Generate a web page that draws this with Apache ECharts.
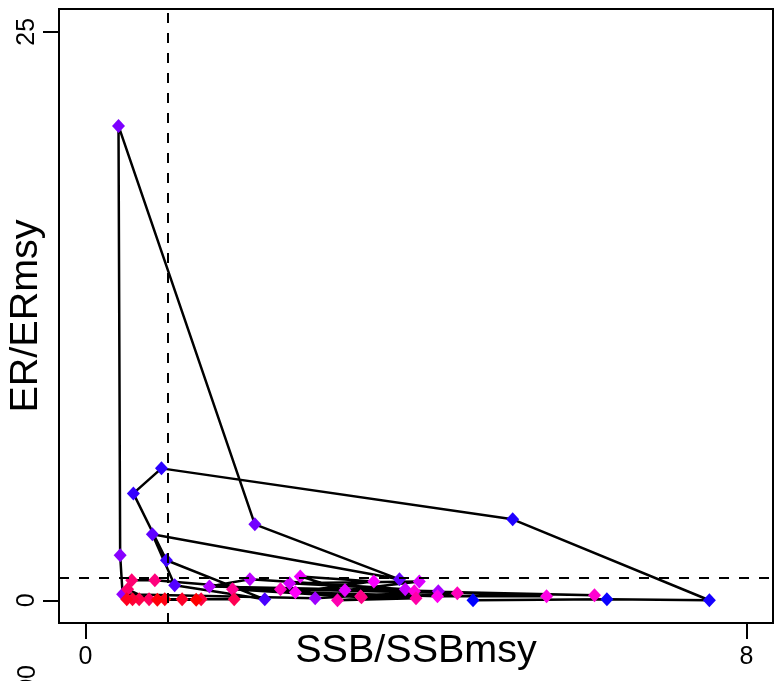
<!DOCTYPE html>
<html>
<head>
<meta charset="utf-8">
<script src="https://cdn.jsdelivr.net/npm/echarts@6/dist/echarts.min.js"></script>
<style>
html,body{margin:0;padding:0;background:#fff;}
#chart{width:775px;height:681px;}
</style>
</head>
<body>
<div id="chart"></div>
<script>
// Trajectory values in time order (SSB/SSBmsy, ER/ERmsy)
const ssbRatio = [4.69, 6.31, 7.55, 5.17, 0.92, 0.58, 0.98, 2.17, 1.08, 0.81,
                  3.80, 2.05, 0.40, 0.42, 0.45, 2.78, 4.27, 1.50, 1.99, 3.87,
                  2.47, 4.04, 3.14, 2.60, 3.49, 2.54, 4.26, 5.58, 3.98, 6.16,
                  2.36, 4.50, 3.05, 4.00, 3.33, 1.78, 3.34, 0.84, 0.56, 0.51,
                  0.77, 1.80, 0.65, 1.40, 0.57, 1.17, 0.50, 0.96, 0.87, 1.34];
const erRatio  = [0.00, 0.04, 0.00, 3.56, 5.80, 4.70, 1.76, 0.04, 0.66, 2.90,
                  0.92, 3.34, 20.86, 1.98, 0.26, 0.09, 0.40, 0.61, 0.92, 0.48,
                  0.75, 0.83, 0.44, 1.05, 0.83, 0.35, 0.18, 0.18, 0.40, 0.22,
                  0.48, 0.31, 0.00, 0.09, 0.18, 0.48, 0.13, 0.88, 0.88, 0.48,
                  0.04, 0.04, 0.04, 0.04, 0.04, 0.04, 0.04, 0.04, 0.02, 0.02];
const xTicks = [0, 8];
const yTicks = [0, 25];
const refX = 1;
const refY = 1;
const xName = 'SSB/SSBmsy';
const yName = 'ER/ERmsy';
const cutLabel = '00';

function rampColor(t) {
  let r, b;
  if (t <= 0.5) { r = Math.round(510 * t); b = 255; }
  else { r = 255; b = Math.round(255 * (2 - 2 * t)); }
  return 'rgb(' + r + ',0,' + b + ')';
}

const n = ssbRatio.length;
const pts = ssbRatio.map((x, i) => ({
  value: [x, erRatio[i]],
  itemStyle: { color: rampColor(i / (n - 1)) }
}));

const font = 'Liberation Sans, Arial, sans-serif';
const chart = echarts.init(document.getElementById('chart'), null, { renderer: 'canvas' });
chart.setOption({
  animation: false,
  backgroundColor: '#fff',
  grid: { left: 59, top: 9, right: 2, bottom: 58, show: true, borderColor: '#000', borderWidth: 2,
          backgroundColor: 'transparent', containLabel: false, outerBoundsMode: 'none' },
  xAxis: {
    type: 'value', min: -0.32, max: 8.32,
    splitLine: { show: false },
    axisLine: { show: false, onZero: false },
    axisTick: { show: true, length: 16, customValues: xTicks, lineStyle: { color: '#000', width: 2 } },
    axisLabel: { customValues: xTicks, color: '#000', fontSize: 25, fontFamily: font, margin: 22 },
    name: xName, nameLocation: 'middle', nameGap: 8, nameMoveOverlap: false,
    nameTextStyle: { color: '#000', fontSize: 39.5, fontFamily: font }
  },
  yAxis: {
    type: 'value', min: -1, max: 26,
    splitLine: { show: false },
    axisLine: { show: false, onZero: false },
    axisTick: { show: true, length: 16, customValues: yTicks, lineStyle: { color: '#000', width: 2 } },
    axisLabel: { customValues: yTicks, color: '#000', fontSize: 25, fontFamily: font, margin: 19, rotate: 90 },
    name: yName, nameLocation: 'middle', nameGap: 13, nameRotate: 90, nameMoveOverlap: false,
    nameTextStyle: { color: '#000', fontSize: 39.5, fontFamily: font }
  },
  graphic: [{
    type: 'text', x: 28, y: 665, rotation: Math.PI / 2,
    style: { text: cutLabel, fill: '#000', font: '25px ' + font, textAlign: 'right', textVerticalAlign: 'middle' }
  }],
  series: [{
    type: 'line',
    data: pts,
    showAllSymbol: true,
    symbol: 'diamond',
    symbolSize: [13, 14],
    lineStyle: { color: '#000', width: 2.5 },
    emphasis: { disabled: true },
    markLine: {
      silent: true, symbol: 'none', animation: false,
      label: { show: false },
      lineStyle: { color: '#000', type: [10, 10], width: 2 },
      data: [{ xAxis: refX }, { yAxis: refY }]
    }
  }]
});
</script>
</body>
</html>
